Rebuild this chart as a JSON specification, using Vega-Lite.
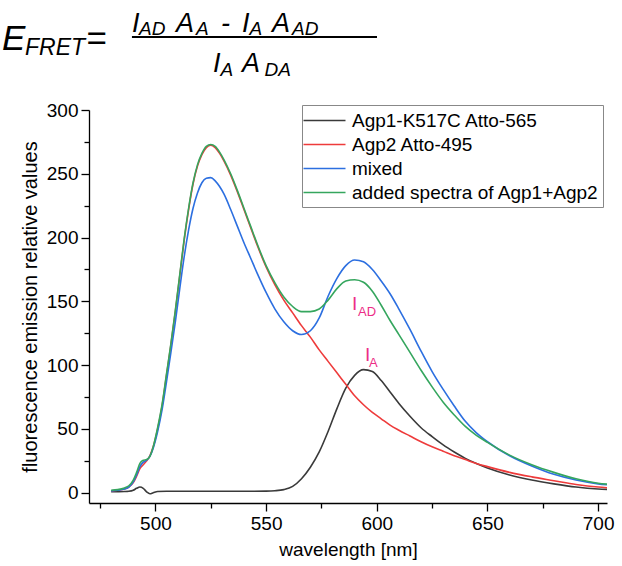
{
  "$schema": "https://vega.github.io/schema/vega-lite/v6.json",
  "width": 518,
  "height": 393,
  "autosize": {"type": "none"},
  "padding": {"left": 89, "top": 110, "right": 15, "bottom": 63},
  "background": "white",
  "config": {
    "view": {"stroke": null},
    "font": "Liberation Sans",
    "axis": {"grid": false, "domainColor": "black", "tickColor": "black", "labelColor": "black", "titleColor": "black", "titleFontWeight": "normal", "labelFont": "Liberation Sans", "titleFont": "Liberation Sans", "domainWidth": 1.3, "tickWidth": 1.3}
  },
  "datasets": {
    "agp1": [
      {"w":480,"v":0.8},{"w":486,"v":1},{"w":488,"v":1.2},{"w":490,"v":2},{"w":491.5,"v":3.5},{"w":493,"v":4.5},{"w":494.5,"v":3.5},{"w":496,"v":0.8},{"w":497.5,"v":-0.8},{"w":499,"v":0},{"w":501,"v":1},{"w":505,"v":1.2},{"w":520,"v":1.2},{"w":540,"v":1.2},{"w":550,"v":1.3},{"w":554,"v":1.6},{"w":558,"v":2.5},{"w":562,"v":5},{"w":566,"v":11},{"w":570,"v":20},{"w":574,"v":32},{"w":578,"v":48},{"w":582,"v":66},{"w":586,"v":82},{"w":590,"v":92},{"w":594,"v":96.5},{"w":598,"v":95},{"w":602,"v":88},{"w":606,"v":79},{"w":610,"v":70},{"w":615,"v":60},{"w":620,"v":51},{"w":625,"v":44},{"w":630,"v":37.5},{"w":635,"v":32},{"w":640,"v":27},{"w":645,"v":23},{"w":650,"v":19.5},{"w":660,"v":14},{"w":670,"v":10},{"w":680,"v":7},{"w":690,"v":4.5},{"w":700,"v":3},{"w":704,"v":2.7}
    ],
    "agp2": [
      {"w":480,"v":1.5},{"w":483,"v":2},{"w":486,"v":3},{"w":488,"v":4.5},{"w":490,"v":8},{"w":491.5,"v":13},{"w":493,"v":19},{"w":494.5,"v":22},{"w":496,"v":25},{"w":497.5,"v":29},{"w":499,"v":36},{"w":501,"v":50},{"w":503,"v":68},{"w":505,"v":92},{"w":507,"v":116},{"w":509,"v":142},{"w":511,"v":170},{"w":513,"v":198},{"w":515,"v":222},{"w":517,"v":242},{"w":519,"v":256},{"w":521,"v":265},{"w":523,"v":270.5},{"w":525,"v":272.5},{"w":527,"v":270.5},{"w":529,"v":266},{"w":531,"v":260},{"w":534,"v":249},{"w":537,"v":236},{"w":540,"v":222},{"w":543,"v":208},{"w":546,"v":194},{"w":550,"v":177},{"w":554,"v":163},{"w":558,"v":151},{"w":562,"v":141},{"w":566,"v":131},{"w":570,"v":122},{"w":574,"v":112},{"w":578,"v":103},{"w":582,"v":94},{"w":586,"v":85},{"w":590,"v":76},{"w":594,"v":69},{"w":598,"v":63},{"w":602,"v":58},{"w":606,"v":53},{"w":610,"v":49},{"w":615,"v":44.5},{"w":620,"v":40},{"w":625,"v":36},{"w":630,"v":32.5},{"w":635,"v":29},{"w":640,"v":26},{"w":645,"v":23},{"w":650,"v":20.5},{"w":660,"v":16},{"w":670,"v":12.5},{"w":680,"v":9.5},{"w":690,"v":6.5},{"w":700,"v":4.5},{"w":704,"v":4}
    ],
    "mixed": [
      {"w":480,"v":1.5},{"w":483,"v":2},{"w":486,"v":3},{"w":488,"v":4.5},{"w":490,"v":8.5},{"w":491.5,"v":14},{"w":493,"v":20.5},{"w":494.5,"v":24},{"w":496,"v":25.5},{"w":497.5,"v":28.5},{"w":499,"v":35},{"w":501,"v":48},{"w":503,"v":65},{"w":505,"v":87},{"w":507,"v":110},{"w":509,"v":134},{"w":511,"v":160},{"w":513,"v":185},{"w":515,"v":206},{"w":517,"v":223},{"w":519,"v":235},{"w":521,"v":243},{"w":523,"v":246.5},{"w":525,"v":247},{"w":527,"v":244.5},{"w":529,"v":240},{"w":531,"v":234},{"w":534,"v":222},{"w":537,"v":209},{"w":540,"v":196},{"w":543,"v":184},{"w":546,"v":172},{"w":550,"v":157},{"w":554,"v":144},{"w":558,"v":134},{"w":562,"v":127},{"w":566,"v":124},{"w":570,"v":127},{"w":574,"v":137},{"w":578,"v":154},{"w":582,"v":168},{"w":586,"v":178},{"w":590,"v":182.5},{"w":594,"v":181},{"w":598,"v":175},{"w":602,"v":166},{"w":606,"v":156},{"w":610,"v":144},{"w":615,"v":128},{"w":620,"v":111},{"w":625,"v":95},{"w":630,"v":81},{"w":635,"v":68},{"w":640,"v":56},{"w":645,"v":47},{"w":650,"v":40},{"w":660,"v":29},{"w":670,"v":21},{"w":680,"v":14.5},{"w":690,"v":10},{"w":700,"v":7},{"w":704,"v":6.3}
    ],
    "added": [
      {"w":480,"v":2},{"w":483,"v":2.5},{"w":486,"v":3.8},{"w":488,"v":5.5},{"w":490,"v":10},{"w":491.5,"v":16},{"w":493,"v":23},{"w":494.5,"v":25.5},{"w":496,"v":26},{"w":497.5,"v":28.5},{"w":499,"v":36},{"w":501,"v":51},{"w":503,"v":69},{"w":505,"v":93},{"w":507,"v":117},{"w":509,"v":143},{"w":511,"v":171},{"w":513,"v":199},{"w":515,"v":223},{"w":517,"v":243},{"w":519,"v":257},{"w":521,"v":266},{"w":523,"v":271.5},{"w":525,"v":273},{"w":527,"v":271.5},{"w":529,"v":267},{"w":531,"v":261},{"w":534,"v":250},{"w":537,"v":237},{"w":540,"v":223},{"w":543,"v":209},{"w":546,"v":195},{"w":550,"v":178},{"w":554,"v":164.5},{"w":558,"v":153.5},{"w":562,"v":146},{"w":566,"v":142},{"w":570,"v":142},{"w":574,"v":144},{"w":578,"v":151},{"w":582,"v":160},{"w":586,"v":166},{"w":590,"v":167},{"w":594,"v":165},{"w":598,"v":158},{"w":602,"v":147},{"w":606,"v":135},{"w":610,"v":124},{"w":615,"v":110},{"w":620,"v":96},{"w":625,"v":83},{"w":630,"v":71},{"w":635,"v":61},{"w":640,"v":52},{"w":645,"v":45},{"w":650,"v":39.5},{"w":660,"v":29.5},{"w":670,"v":22},{"w":680,"v":16},{"w":690,"v":11},{"w":700,"v":7.5},{"w":704,"v":6.8}
    ],
    "formulaBig": [
      {"w":430.7,"v":347.0,"t":"E"},
      {"w":468.6,"v":347.0,"t":"="}
    ],
    "formulaFret": [
      {"w":441.1,"v":343.1,"t":"FRET"}
    ],
    "formulaMain": [
      {"w":489.4,"v":361.1,"t":"I"},
      {"w":509.3,"v":361.1,"t":"A"},
      {"w":529.6,"v":361.1,"t":"-"},
      {"w":539.1,"v":361.1,"t":"I"},
      {"w":552.7,"v":361.1,"t":"A"},
      {"w":526.0,"v":329.8,"t":"I"},
      {"w":539.1,"v":329.8,"t":"A"}
    ],
    "formulaSub": [
      {"w":492.6,"v":358.4,"t":"AD"},
      {"w":518.3,"v":358.4,"t":"A"},
      {"w":542.5,"v":358.4,"t":"A"},
      {"w":561.7,"v":358.4,"t":"AD"},
      {"w":529.4,"v":326.7,"t":"A"},
      {"w":549.3,"v":326.7,"t":"DA"}
    ],
    "fractionBar": [
      {"w":489.4,"w2":600.1,"v":357.2}
    ],
    "labelMain": [
      {"w":588.8,"v":143.3,"t":"I"},
      {"w":594.7,"v":103.3,"t":"I"}
    ],
    "labelSub": [
      {"w":591.5,"v":138.6,"t":"AD"},
      {"w":596.5,"v":98.6,"t":"A"}
    ]
  },
  "encoding": {
    "x": {
      "field": "w", "type": "quantitative",
      "scale": {"domain": [470, 704], "nice": false, "zero": false},
      "axis": {
        "title": "wavelength [nm]",
        "values": [475, 500, 525, 550, 575, 600, 625, 650, 675, 700],
        "labelExpr": "datum.value % 50 === 0 ? datum.label : ''",
        "tickSize": {"condition": {"test": "datum.value % 50 === 0", "value": 8}, "value": 5},
        "labelFontSize": 19, "titleFontSize": 19, "labelPadding": 3, "titlePadding": 7,
        "labelOverlap": false, "labelBound": false, "labelFlush": false
      }
    },
    "y": {
      "field": "v", "type": "quantitative",
      "scale": {"domain": [-8, 300], "nice": false, "zero": false},
      "axis": {
        "title": "fluorescence emission relative values",
        "values": [0, 25, 50, 75, 100, 125, 150, 175, 200, 225, 250, 275, 300],
        "labelExpr": "datum.value % 50 === 0 ? datum.label : ''",
        "tickSize": {"condition": {"test": "datum.value % 50 === 0", "value": 8}, "value": 5},
        "labelFontSize": 19, "titleFontSize": 20, "labelPadding": 3, "titlePadding": 6,
        "labelOverlap": false, "labelBound": false, "labelFlush": false
      }
    }
  },
  "layer": [
    {"data": {"name": "agp1"}, "mark": {"type": "line", "strokeWidth": 1.6, "interpolate": "monotone"}, "encoding": {"color": {"datum": "Agp1-K517C Atto-565"}}},
    {"data": {"name": "agp2"}, "mark": {"type": "line", "strokeWidth": 1.6, "interpolate": "monotone"}, "encoding": {"color": {"datum": "Agp2 Atto-495"}}},
    {"data": {"name": "mixed"}, "mark": {"type": "line", "strokeWidth": 1.6, "interpolate": "monotone"}, "encoding": {"color": {"datum": "mixed"}}},
    {"data": {"name": "added"}, "mark": {"type": "line", "strokeWidth": 1.6, "interpolate": "monotone"},
     "encoding": {"color": {"datum": "added spectra of Agp1+Agp2",
       "scale": {"domain": ["Agp1-K517C Atto-565", "Agp2 Atto-495", "mixed", "added spectra of Agp1+Agp2"], "range": ["#3a3a3a", "#ee3b3b", "#2c6fe0", "#35a65e"]},
       "legend": {"title": null, "orient": "none", "legendX": 213, "legendY": -5, "symbolType": "M-2,0H2", "symbolSize": 441, "symbolStrokeWidth": 1.5, "labelFontSize": 19, "labelFont": "Liberation Sans", "labelColor": "black", "strokeColor": "#888888", "fillColor": "white", "padding": 4, "rowPadding": 2, "symbolOffset": 7, "labelOffset": 16, "labelLimit": 400}}}},
    {"data": {"name": "formulaBig"}, "mark": {"type": "text", "align": "left", "baseline": "alphabetic", "fontSize": 35, "fontStyle": "italic", "color": "black"}, "encoding": {"text": {"field": "t"}}},
    {"data": {"name": "formulaFret"}, "mark": {"type": "text", "align": "left", "baseline": "alphabetic", "fontSize": 23, "fontStyle": "italic", "color": "black"}, "encoding": {"text": {"field": "t"}}},
    {"data": {"name": "formulaMain"}, "mark": {"type": "text", "align": "left", "baseline": "alphabetic", "fontSize": 27, "fontStyle": "italic", "color": "black"}, "encoding": {"text": {"field": "t"}}},
    {"data": {"name": "formulaSub"}, "mark": {"type": "text", "align": "left", "baseline": "alphabetic", "fontSize": 19, "fontStyle": "italic", "color": "black"}, "encoding": {"text": {"field": "t"}}},
    {"data": {"name": "fractionBar"}, "mark": {"type": "rule", "strokeWidth": 2, "color": "black"}, "encoding": {"x2": {"field": "w2"}}},
    {"data": {"name": "labelMain"}, "mark": {"type": "text", "align": "left", "baseline": "alphabetic", "fontSize": 19, "color": "#ec2d87"}, "encoding": {"text": {"field": "t"}}},
    {"data": {"name": "labelSub"}, "mark": {"type": "text", "align": "left", "baseline": "alphabetic", "fontSize": 13, "color": "#ec2d87"}, "encoding": {"text": {"field": "t"}}}
  ]
}
